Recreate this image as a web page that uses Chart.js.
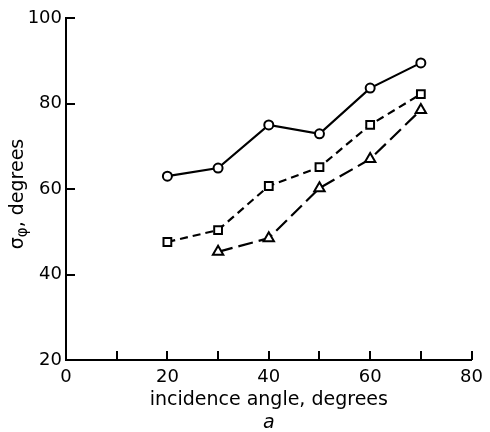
<!DOCTYPE html>
<html>
<head>
<meta charset="utf-8">
<script src="https://cdn.jsdelivr.net/npm/chart.js@4"></script>
<style>
  html, body { margin: 0; padding: 0; background: #fff; }
  #wrap { width: 490px; height: 432px; }
</style>
</head>
<body>
<div id="wrap"><canvas id="line-chart" width="490" height="432"></canvas></div>
<script>
const angles = [20, 30, 40, 50, 60, 70]
const circleVals = [63.0, 64.9, 75.0, 72.9, 83.6, 89.5]
const squareVals = [47.6, 50.4, 60.7, 65.1, 75.0, 82.2]
const triangleAngles = [30, 40, 50, 60, 70]
const triangleVals = [45.3, 48.5, 60.2, 67.0, 78.5]

const xTicks = [10, 20, 30, 40, 50, 60, 70, 80]
const yTicks = [40, 60, 80, 100]

const FONT = 'DejaVu Sans'

function toPoints(xs, ys) {
  return xs.map(function(x, i) { return {x: x, y: ys[i]} })
}

// ticks pointing into the plot, axis title with subscript, panel letter
const extras = {
  id: 'extras',
  afterDraw: function(chart) {
    const ctx = chart.ctx
    const xs = chart.scales.x, ys = chart.scales.y
    const area = chart.chartArea
    ctx.save()
    ctx.strokeStyle = '#000'
    ctx.lineWidth = 2
    ctx.beginPath()
    xTicks.forEach(function(v) {
      const px = Math.round(xs.getPixelForValue(v))
      ctx.moveTo(px, area.bottom)
      ctx.lineTo(px, area.bottom - 9)
    })
    yTicks.forEach(function(v) {
      const py = Math.round(ys.getPixelForValue(v))
      ctx.moveTo(area.left, py)
      ctx.lineTo(area.left + 9, py)
    })
    ctx.stroke()

    // y title: sigma with subscript phi
    ctx.fillStyle = '#000'
    ctx.translate(18, (area.top + area.bottom) / 2 + 5)
    ctx.rotate(-Math.PI / 2)
    ctx.textBaseline = 'middle'
    const big = '19px "' + FONT + '"', small = '15px "' + FONT + '"'
    ctx.font = big
    const w1 = ctx.measureText('σ').width
    const w3 = ctx.measureText(', degrees').width
    ctx.font = small
    const w2 = ctx.measureText('φ').width
    let x0 = -(w1 + w2 + w3) / 2
    ctx.font = big
    ctx.fillText('σ', x0, 0)
    ctx.font = small
    ctx.fillText('φ', x0 + w1, 5)
    ctx.font = big
    ctx.fillText(', degrees', x0 + w1 + w2, 0)
    ctx.restore()

    ctx.save()
    ctx.fillStyle = '#000'
    ctx.font = 'italic 19px "' + FONT + '"'
    ctx.textAlign = 'center'
    ctx.textBaseline = 'middle'
    ctx.fillText('a', xs.getPixelForValue(40), 423)
    ctx.restore()
  }
}

const ctx = document.getElementById('line-chart').getContext('2d')
const myChart = new Chart(ctx, {
  type: 'line',
  data: {
    datasets: [{
        data: toPoints(angles, circleVals),
        borderColor: '#000',
        borderWidth: 2.2,
        pointStyle: 'circle',
        pointRadius: 4.5,
        pointBorderWidth: 2,
        pointBackgroundColor: '#fff',
        pointBorderColor: '#000',
        fill: false
      }, {
        data: toPoints(angles, squareVals),
        borderColor: '#000',
        borderWidth: 2.2,
        borderDash: [8, 5],
        pointStyle: 'rect',
        pointRadius: 5.5,
        pointBorderWidth: 2,
        pointBackgroundColor: '#fff',
        pointBorderColor: '#000',
        fill: false
      }, {
        data: toPoints(triangleAngles, triangleVals),
        borderColor: '#000',
        borderWidth: 2.2,
        borderDash: [15, 6],
        pointStyle: 'triangle',
        pointRadius: 6,
        pointBorderWidth: 2,
        pointBackgroundColor: '#fff',
        pointBorderColor: '#000',
        fill: false
      }
    ]
  },
  options: {
    responsive: false,
    animation: false,
    layout: { padding: { top: 18, right: 14, left: 0, bottom: 0 } },
    plugins: { legend: { display: false }, tooltip: { enabled: false } },
    scales: {
      x: {
        type: 'linear',
        min: 0,
        max: 80,
        border: { display: true, color: '#000', width: 2 },
        grid: { display: true, drawOnChartArea: false, drawTicks: false },
        ticks: {
          stepSize: 10,
          padding: 7,
          color: '#000',
          maxRotation: 0,
          font: { family: FONT, size: 18 },
          callback: function(v) { return v % 20 === 0 ? v : '' }
        },
        title: {
          display: true,
          text: 'incidence angle, degrees',
          color: '#000',
          font: { family: FONT, size: 19 },
          padding: { top: 0, bottom: 21 }
        },
        afterFit: function(scale) { scale.height = 72 }
      },
      y: {
        min: 20,
        max: 100,
        border: { display: true, color: '#000', width: 2 },
        grid: { display: true, drawOnChartArea: false, drawTicks: false },
        ticks: {
          stepSize: 20,
          padding: 4,
          color: '#000',
          font: { family: FONT, size: 18 }
        },
        afterFit: function(scale) { scale.width = 66 }
      }
    }
  },
  plugins: [extras]
})
</script>
</body>
</html>
